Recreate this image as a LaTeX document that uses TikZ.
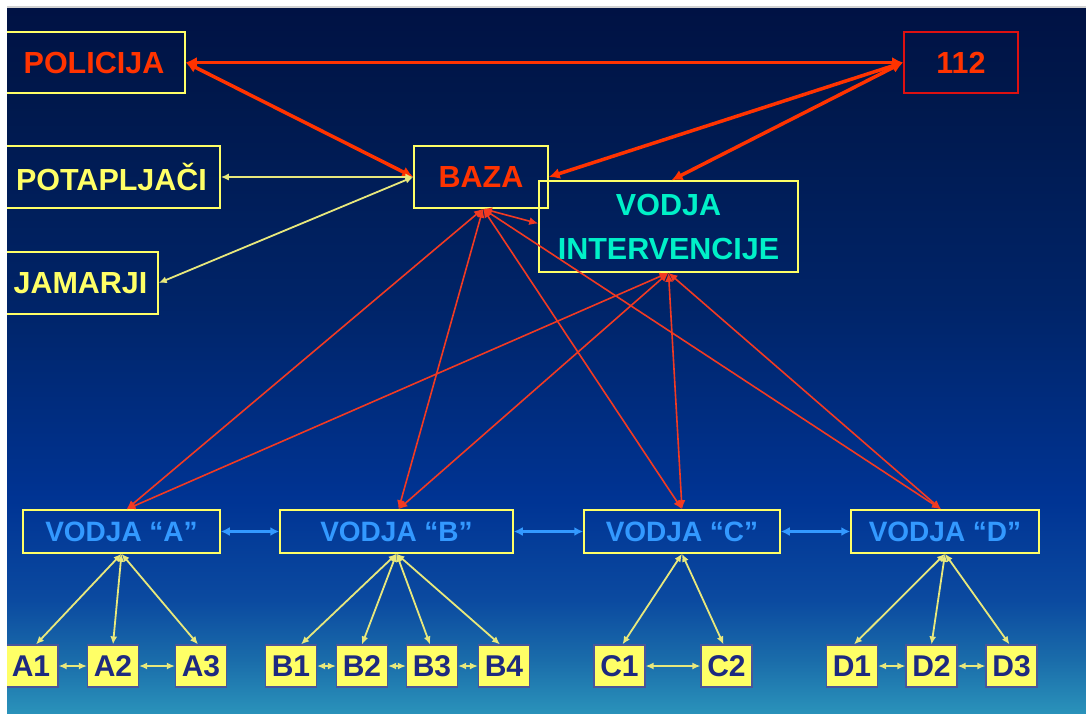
\documentclass[tikz,border=0pt]{standalone}
\usepackage{fontspec}
\setmainfont{Liberation Sans}
\usetikzlibrary{arrows.meta}
\definecolor{redt}{HTML}{FF3300}
\definecolor{redl}{HTML}{F23A22}
\definecolor{boxy}{HTML}{FFFF66}
\definecolor{yl}{HTML}{E8E87C}
\definecolor{vicol}{HTML}{00F0C8}
\definecolor{vodcol}{HTML}{3399FF}
\definecolor{subtxt}{HTML}{1E2A80}
\definecolor{boxred}{HTML}{DD1111}
\definecolor{bgA}{HTML}{2A92BA}
\definecolor{bgB}{HTML}{1A6CAA}
\definecolor{bgC}{HTML}{0B4AA0}
\definecolor{bgD}{HTML}{003494}
\definecolor{bgE}{HTML}{002468}
\definecolor{bgF}{HTML}{00184C}
\definecolor{bgG}{HTML}{001244}
\pgfdeclareverticalshading{bgshade}{100bp}{color(0bp)=(bgA); color(25bp)=(bgA); color(28.8bp)=(bgB); color(33bp)=(bgC); color(40bp)=(bgD); color(54bp)=(bgE); color(68.5bp)=(bgF); color(75bp)=(bgG); color(100bp)=(bgG)}
\tikzset{
  topbox/.style={draw=boxy, line width=1.5pt, inner sep=0pt, font=\bfseries\fontsize{30.5}{44}\selectfont},
  vbox/.style={draw=boxy, line width=1.5pt, inner sep=0pt, minimum height=43pt, text=vodcol, font=\bfseries\fontsize{28}{34}\selectfont},
  subbox/.style={draw=subtxt!80, fill=boxy, line width=1.2pt, inner sep=0pt, minimum height=42pt, minimum width=51pt, text=subtxt, font=\bfseries\fontsize{30}{34}\selectfont},
  redthick/.style={draw=redt, line width=3.5pt, arrows={Latex[length=11pt,width=11pt]-Latex[length=11pt,width=11pt]}},
  redthin/.style={draw=redl, line width=1.6pt, arrows={Latex[length=9pt,width=8pt]-Latex[length=9pt,width=8pt]}},
  yline/.style={draw=yl, line width=1.8pt, arrows={Latex[length=8pt,width=7pt]-Latex[length=8pt,width=7pt]}},
  bline/.style={draw=vodcol, line width=2.5pt, arrows={Latex[length=9pt,width=9pt]-Latex[length=9pt,width=9pt]}}
}
\begin{document}
\begin{tikzpicture}[x=1pt,y=-1pt]
\useasboundingbox (0,0) rectangle (1086,713);
\fill[white] (0,0) rectangle (1086,713);
\draw[gray!35, line width=1.5pt] (7,7) -- (1086,7);
\shade[shading=bgshade] (7,8) rectangle (1086,713);
\begin{scope}
\clip (7,8) rectangle (1086,713);
% top nodes
\node[topbox, text=redt, minimum width=182pt, minimum height=61pt] (pol) at (94,62.5) {POLICIJA};
\node[topbox, draw=boxred, line width=2pt, text=redt, minimum width=114pt, minimum height=61pt] (n112) at (961,62.5) {112};
\node[topbox, text=boxy, minimum width=217pt, minimum height=62pt] (pot) at (111.5,177) {POTAPLJAČI};
\node[topbox, text=boxy, minimum width=155pt, minimum height=62pt] (jam) at (80.5,283) {JAMARJI};
\node[topbox, text=redt, minimum width=134pt, minimum height=62pt] (baza) at (481,177) {BAZA};
\node[topbox, text=vicol, align=center, minimum width=259pt, minimum height=91pt] (vi) at (668.5,226.5) {VODJA\\INTERVENCIJE};
% vodje
\node[vbox, minimum width=197pt] (va) at (121.5,531.5) {VODJA “A”};
\node[vbox, minimum width=233pt] (vb) at (396.5,531.5) {VODJA “B”};
\node[vbox, minimum width=196pt] (vc) at (682,531.5) {VODJA “C”};
\node[vbox, minimum width=188pt] (vd) at (945,531.5) {VODJA “D”};
% sub boxes
\node[subbox, minimum width=54pt] (a1) at (31,666) {A1};
\node[subbox] (a2) at (113,666) {A2};
\node[subbox] (a3) at (201,666) {A3};
\node[subbox] (b1) at (291,666) {B1};
\node[subbox] (b2) at (362,666) {B2};
\node[subbox] (b3) at (432,666) {B3};
\node[subbox] (b4) at (504,666) {B4};
\node[subbox] (c1) at (619.5,666) {C1};
\node[subbox] (c2) at (726.5,666) {C2};
\node[subbox] (d1) at (852,666) {D1};
\node[subbox] (d2) at (931.5,666) {D2};
\node[subbox] (d3) at (1011.5,666) {D3};
% coordinates on vodja tops
\coordinate (ta) at ([xshift=5pt]va.north);
\coordinate (tb) at ([xshift=2pt]vb.north);
\coordinate (tc) at (vc.north);
\coordinate (td) at ([xshift=-4pt]vd.north);
\coordinate (bz) at ([xshift=2pt]baza.south);
% thick red
\path[redthick] (pol.east) -- (n112.west);
\path[redthick] (pol.east) -- (baza.west);
\path[redthick] (n112.west) -- (baza.east);
\path[redthick] (n112.west) -- ([xshift=3pt]vi.north);
% yellow from baza
\path[yline] (baza.west) -- (pot.east);
\path[yline] (baza.west) -- (jam.east);
% thin red
\path[redthin] (bz) -- ([yshift=3pt]vi.west);
\path[redthin] (bz) -- (ta);
\path[redthin] (bz) -- (tb);
\path[redthin] (bz) -- (tc);
\path[redthin] (bz) -- (td);
\path[redthin] (vi.south) -- (ta);
\path[redthin] (vi.south) -- (tb);
\path[redthin] (vi.south) -- (tc);
\path[redthin] (vi.south) -- (td);
% blue
\path[bline] (va.east) -- (vb.west);
\path[bline] (vb.east) -- (vc.west);
\path[bline] (vc.east) -- (vd.west);
% yellow fans
\path[yline] (va.south) -- ([xshift=5pt]a1.north);
\path[yline] (va.south) -- (a2.north);
\path[yline] (va.south) -- ([xshift=-3pt]a3.north);
\path[yline] (vb.south) -- ([xshift=10pt]b1.north);
\path[yline] (vb.south) -- (b2.north);
\path[yline] (vb.south) -- ([xshift=-2pt]b3.north);
\path[yline] (vb.south) -- ([xshift=-4pt]b4.north);
\path[yline] (vc.south) -- ([xshift=3pt]c1.north);
\path[yline] (vc.south) -- ([xshift=-3pt]c2.north);
\path[yline] (vd.south) -- ([xshift=2pt]d1.north);
\path[yline] (vd.south) -- (d2.north);
\path[yline] (vd.south) -- ([xshift=-2pt]d3.north);
% horizontal sub links
\path[yline] (a1.east) -- (a2.west);
\path[yline] (a2.east) -- (a3.west);
\path[yline] (b1.east) -- (b2.west);
\path[yline] (b2.east) -- (b3.west);
\path[yline] (b3.east) -- (b4.west);
\path[yline] (c1.east) -- (c2.west);
\path[yline] (d1.east) -- (d2.west);
\path[yline] (d2.east) -- (d3.west);
\end{scope}
\end{tikzpicture}
\end{document}
